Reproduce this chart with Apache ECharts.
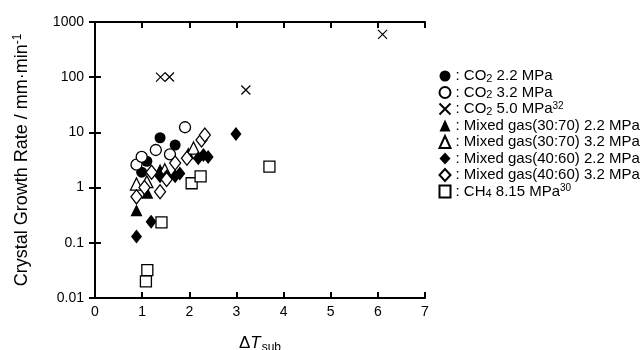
<!DOCTYPE html>
<html>
<head>
<meta charset="utf-8">
<script src="https://cdn.jsdelivr.net/npm/echarts@6/dist/echarts.min.js"></script>
<style>html,body{margin:0;padding:0;background:#fff;}#c{width:640px;height:350px;}</style>
</head>
<body>
<div id="c"></div>
<script>
// ---- data (x = ΔTsub, y = crystal growth rate) ----
const co2_22_x = [0.99, 1.10, 1.38, 1.70];
const co2_22_y = [1.9, 3.0, 8.0, 5.9];
const co2_32_x = [0.88, 0.99, 1.29, 1.59, 1.91];
const co2_32_y = [2.6, 3.6, 4.8, 4.0, 12.4];
const co2_50_x = [1.39, 1.58, 3.20, 6.10];
const co2_50_y = [100, 101, 58.6, 598];
const mix3070_22_x = [0.88, 1.11, 1.38, 1.98];
const mix3070_22_y = [0.39, 0.81, 2.1, 4.2];
const mix3070_32_x = [0.88, 1.10, 1.48, 2.09];
const mix3070_32_y = [1.16, 1.28, 2.1, 5.2];
const mix4060_22_x = [0.88, 1.19, 1.38, 1.52, 1.70, 1.80, 2.19, 2.30, 2.40, 2.99];
const mix4060_22_y = [0.13, 0.24, 1.6, 1.6, 1.6, 1.8, 3.4, 3.9, 3.6, 9.4];
const mix4060_32_x = [0.88, 1.05, 1.20, 1.38, 1.52, 1.70, 1.95, 2.26, 2.33];
const mix4060_32_y = [0.68, 1.0, 1.9, 0.84, 1.4, 2.8, 3.4, 7.3, 9.0];
const ch4_815_x = [1.08, 1.11, 1.41, 2.05, 2.24, 3.70];
const ch4_815_y = [0.020, 0.032, 0.235, 1.2, 1.6, 2.4];

const xTicks = [0, 1, 2, 3, 4, 5, 6, 7];
const yTickLabels = ['0.01', '0.1', '1', '10', '100', '1000'];

const seriesNames = ['co2_22', 'co2_32', 'co2_50', 'm3070_22', 'm3070_32', 'm4060_22', 'm4060_32', 'ch4'];
const legendTexts = {
  co2_22: ': CO{sub|2} 2.2 MPa',
  co2_32: ': CO{sub|2} 3.2 MPa',
  co2_50: ': CO{sub|2} 5.0 MPa{sup|32}',
  m3070_22: ': Mixed gas(30:70) 2.2 MPa',
  m3070_32: ': Mixed gas(30:70) 3.2 MPa',
  m4060_22: ': Mixed gas(40:60) 2.2 MPa',
  m4060_32: ': Mixed gas(40:60) 3.2 MPa',
  ch4: ': CH{sub|4} 8.15 MPa{sup|30}'
};

function pairs(xs, ys) { return xs.map((x, i) => [x, ys[i]]); }

const FONT = '"Liberation Sans", Arial, sans-serif';
const filled = { color: '#000', borderColor: '#000', borderWidth: 0, opacity: 1 };
const hollow = { color: '#fff', borderColor: '#000', borderWidth: 1.3, opacity: 1 };
const crossPath = 'path://M0,0L10,10M10,0L0,10';

function mk(name, data, symbol, size, style) {
  return { name: name, type: 'scatter', data: data, symbol: symbol, symbolSize: size,
           itemStyle: style, xAxisIndex: 0, yAxisIndex: 0, silent: true, z: 3 };
}

const series = [
  mk('co2_22', pairs(co2_22_x, co2_22_y), 'circle', 11, filled),
  mk('co2_32', pairs(co2_32_x, co2_32_y), 'circle', 11, hollow),
  mk('co2_50', pairs(co2_50_x, co2_50_y), crossPath, 9, { color: 'none', borderColor: '#000', borderWidth: 1.2, opacity: 1 }),
  mk('m3070_22', pairs(mix3070_22_x, mix3070_22_y), 'triangle', 12, filled),
  mk('m3070_32', pairs(mix3070_32_x, mix3070_32_y), 'triangle', 12, hollow),
  mk('m4060_22', pairs(mix4060_22_x, mix4060_22_y), 'diamond', [11, 14], filled),
  mk('m4060_32', pairs(mix4060_32_x, mix4060_32_y), 'diamond', [11, 14], hollow),
  mk('ch4', pairs(ch4_815_x, ch4_815_y), 'rect', 11, hollow)
];

const axisLine = { show: true, lineStyle: { color: '#000', width: 2 } };
const axisTick = { show: true, inside: true, length: 6, lineStyle: { color: '#000', width: 2 } };

const chart = echarts.init(document.getElementById('c'), null, { renderer: 'canvas' });
chart.setOption({
  animation: false,
  backgroundColor: '#fff',
  textStyle: { fontFamily: FONT },
  grid: { left: 95, right: 215, top: 22, bottom: 52, containLabel: false, outerBoundsMode: 'none' },
  xAxis: [
    { type: 'value', position: 'bottom', min: xTicks[0], max: xTicks[xTicks.length - 1], interval: 1,
      axisLine: axisLine, axisTick: axisTick, splitLine: { show: false },
      axisLabel: { color: '#000', fontSize: 14, fontFamily: FONT, margin: 7 },
      name: '{d|Δ}{t|T}{s|sub}', nameLocation: 'middle', nameGap: 34,
      nameTextStyle: { color: '#000', rich: {
        d: { fontSize: 17, fontFamily: FONT, color: '#000' },
        t: { fontSize: 17, fontFamily: FONT, fontStyle: 'italic', color: '#000' },
        s: { fontSize: 12, fontFamily: FONT, color: '#000', verticalAlign: 'bottom', padding: [10, 0, 0, 1] } } } },
    { type: 'value', position: 'top', min: xTicks[0], max: xTicks[xTicks.length - 1], interval: 1,
      axisLine: axisLine, axisTick: axisTick, axisLabel: { show: false }, splitLine: { show: false } }
  ],
  yAxis: [
    { type: 'log', logBase: 10, min: 0.01, max: 1000, position: 'left',
      axisLine: axisLine, axisTick: axisTick, splitLine: { show: false },
      axisLabel: { color: '#000', fontSize: 14, fontFamily: FONT, margin: 11,
        formatter: function (v) { const e = Math.round(Math.log10(v)); return yTickLabels[e + 2]; } },
      name: 'Crystal Growth Rate / mm·min{sup|-1}', nameLocation: 'middle', nameRotate: 90, nameGap: 63,
      nameTextStyle: { color: '#000', fontSize: 18, fontFamily: FONT, rich: {
        sup: { fontSize: 12, fontFamily: FONT, color: '#000', verticalAlign: 'top', padding: [0, 0, 8, 0] } } } },
    { type: 'log', logBase: 10, min: 0.01, max: 1000, position: 'right',
      axisLine: axisLine, axisTick: axisTick, axisLabel: { show: false }, splitLine: { show: false } }
  ],
  legend: {
    orient: 'vertical', left: 437, top: 68, padding: 0, itemGap: 0.5, itemWidth: 11, itemHeight: 12,
    data: seriesNames, selectedMode: false,
    formatter: function (n) { return legendTexts[n]; },
    textStyle: { color: '#000', fontSize: 15, lineHeight: 16, fontFamily: FONT, rich: {
      sub: { fontSize: 11, lineHeight: 16, fontFamily: FONT, color: '#000', verticalAlign: 'bottom', padding: [5, 0, 0, 0] },
      sup: { fontSize: 10, lineHeight: 16, fontFamily: FONT, color: '#000', verticalAlign: 'top', padding: [0, 0, 5, 0] } } }
  },
  series: series
});
</script>
</body>
</html>
